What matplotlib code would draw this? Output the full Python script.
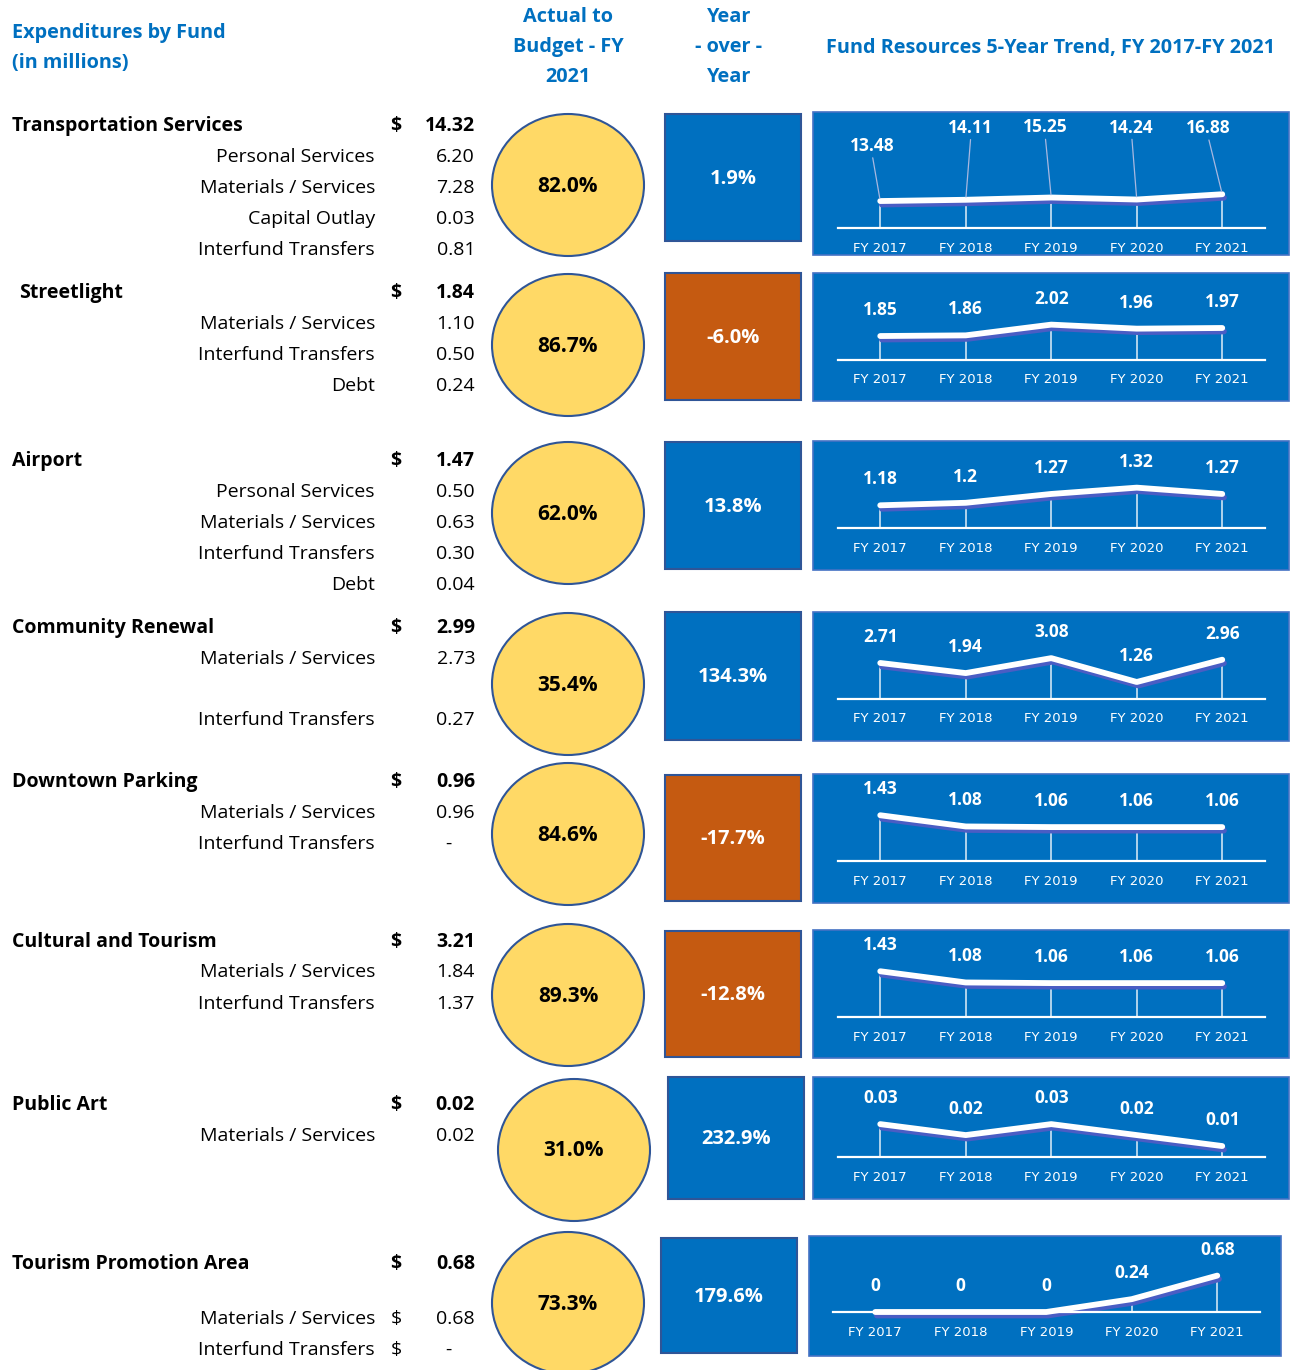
import numpy as np
import matplotlib
matplotlib.use("Agg")
import matplotlib.pyplot as plt
import matplotlib.patheffects as pe
from matplotlib.patches import Ellipse, Rectangle

plt.rcParams['font.family'] = ['Open Sans', 'DejaVu Sans']

# ---- data (in millions) ----
funds = ["Transportation Services", "Streetlight", "Airport", "Community Renewal",
         "Downtown Parking", "Cultural and Tourism", "Public Art", "Tourism Promotion Area"]
fund_totals = [14.32, 1.84, 1.47, 2.99, 0.96, 3.21, 0.02, 0.68]

item_names = [
    ["Personal Services", "Materials / Services", "Capital Outlay", "Interfund Transfers"],
    ["Materials / Services", "Interfund Transfers", "Debt"],
    ["Personal Services", "Materials / Services", "Interfund Transfers", "Debt"],
    ["Materials / Services", "Interfund Transfers"],
    ["Materials / Services", "Interfund Transfers"],
    ["Materials / Services", "Interfund Transfers"],
    ["Materials / Services"],
    ["Materials / Services", "Interfund Transfers"],
]
item_values = [
    [6.20, 7.28, 0.03, 0.81],
    [1.10, 0.50, 0.24],
    [0.50, 0.63, 0.30, 0.04],
    [2.73, 0.27],
    [0.96, None],
    [1.84, 1.37],
    [0.02],
    [0.68, None],
]

actual_to_budget = [82.0, 86.7, 62.0, 35.4, 84.6, 89.3, 31.0, 73.3]
year_over_year = [1.9, -6.0, 13.8, 134.3, -17.7, -12.8, 232.9, 179.6]

years = ["FY 2017", "FY 2018", "FY 2019", "FY 2020", "FY 2021"]
trend = [
    [13.48, 14.11, 15.25, 14.24, 16.88],
    [1.85, 1.86, 2.02, 1.96, 1.97],
    [1.18, 1.2, 1.27, 1.32, 1.27],
    [2.71, 1.94, 3.08, 1.26, 2.96],
    [1.43, 1.08, 1.06, 1.06, 1.06],
    [1.43, 1.08, 1.06, 1.06, 1.06],
    [0.03, 0.02, 0.03, 0.02, 0.01],
    [0, 0, 0, 0.24, 0.68],
]
# sparkline value axis bounds
trend_axis_min = [0, 1.5, 1.0, 0, 0, 0, 0, 0]
trend_axis_max = [58, 2.79, 1.69, 6.6, 2.72, 2.72, 0.073, 1.42]

# ---- layout (pixels, top-left origin) ----
W, H = 1290, 1370
BLUE = "#0070C0"
ORANGE = "#C55A11"
YELLOW = "#FFD966"
EDGE = "#2F5597"

title_x = [12, 19, 12, 12, 12, 12, 12, 12]
title_y = [125, 292, 460, 627, 781, 941, 1104, 1263]
item_y = [[156, 187, 218, 249], [323, 354, 385], [491, 522, 553, 584], [658, 719],
          [812, 843], [971, 1003], [1135], [1318, 1349]]
item_dollar = [False] * 7 + [True]
circle_xy = [(568, 185), (568, 345), (568, 513), (568, 684), (568, 834), (568, 995),
             (574, 1150), (568, 1303)]
boxes = [(665, 114, 801, 241), (665, 273, 801, 400), (665, 442, 801, 569),
         (665, 612, 801, 740), (665, 775, 801, 901), (665, 931, 801, 1057),
         (668, 1077, 804, 1199), (661, 1238, 797, 1353)]
panels = [(813, 112, 1289, 255), (813, 273, 1289, 401), (813, 441, 1289, 570),
          (813, 612, 1289, 741), (813, 774, 1289, 903), (813, 930, 1289, 1058),
          (813, 1077, 1289, 1199), (809, 1236, 1281, 1356)]
baselines = [228, 359.5, 528, 698.5, 861, 1017, 1157, 1312]
plot_x = [(837.5, 1265)] * 7 + [(832.5, 1260)]
# label offsets for the first sparkline (leader lines)
lead_offsets = [(-8, 55), (5, 72), (-6, 70), (-5, 72), (-14, 66)]

FS = 14

fig = plt.figure(figsize=(W / 100, H / 100), dpi=100)
ax = fig.add_axes([0, 0, 1, 1])
ax.set_xlim(0, W)
ax.set_ylim(H, 0)
ax.axis("off")

# headers
hdr = dict(color=BLUE, fontweight="bold", fontsize=14.3, va="center")
ax.text(12, 33, "Expenditures by Fund", ha="left", **hdr)
ax.text(12, 63, "(in millions)", ha="left", **hdr)
for y, s in zip([17, 47, 77], ["Actual to", "Budget - FY", "2021"]):
    ax.text(568, y, s, ha="center", **hdr)
for y, s in zip([17, 47, 77], ["Year", "- over -", "Year"]):
    ax.text(729, y, s, ha="center", **hdr)
ax.text(1050, 48, "Fund Resources 5-Year Trend, FY 2017-FY 2021", ha="center", **hdr)

for k, name in enumerate(funds):
    # left table
    ax.text(title_x[k], title_y[k] + 1, name, ha="left", va="center", fontsize=FS,
            fontweight="bold")
    ax.text(396, title_y[k] + 1, "$", ha="center", va="center", fontsize=FS, fontweight="bold")
    ax.text(475, title_y[k] + 1, f"{fund_totals[k]:.2f}", ha="right", va="center",
            fontsize=FS, fontweight="bold")
    for nm, val, y in zip(item_names[k], item_values[k], item_y[k]):
        ax.text(375, y + 1, nm, ha="right", va="center", fontsize=FS)
        if item_dollar[k]:
            ax.text(396, y + 1, "$", ha="center", va="center", fontsize=FS)
        if val is None:
            ax.text(448, y + 1, "-", ha="center", va="center", fontsize=FS)
        else:
            ax.text(475, y + 1, f"{val:.2f}", ha="right", va="center", fontsize=FS)

    # actual to budget circle
    cx, cy = circle_xy[k]
    ax.add_patch(Ellipse((cx, cy), 152, 142, facecolor=YELLOW, edgecolor=EDGE, lw=1.5))
    ax.text(cx, cy + 1, f"{actual_to_budget[k]:.1f}%", ha="center", va="center",
            fontsize=15, fontweight="bold")

    # year over year box
    x0, y0, x1, y1 = boxes[k]
    col = BLUE if year_over_year[k] >= 0 else ORANGE
    ax.add_patch(Rectangle((x0, y0), x1 - x0, y1 - y0, facecolor=col, edgecolor=EDGE, lw=1.5))
    ax.text((x0 + x1) / 2, (y0 + y1) / 2 + 1, f"{year_over_year[k]:.1f}%", ha="center",
            va="center", fontsize=14.5, fontweight="bold", color="white")

    # sparkline panel
    px0, py0, px1, py1 = panels[k]
    ax.add_patch(Rectangle((px0, py0), px1 - px0, py1 - py0, facecolor=BLUE,
                           edgecolor="#4472C4", lw=1.2))
    bl = baselines[k]
    xa, xb = plot_x[k]
    sp = fig.add_axes([xa / W, 1 - bl / H, (xb - xa) / W, (bl - py0) / H])
    sp.set_facecolor("none")
    sp.set_xlim(-0.5, 4.5)
    sp.set_ylim(trend_axis_min[k], trend_axis_max[k])
    xs = np.arange(len(years))
    vals = trend[k]
    sp.vlines(xs, trend_axis_min[k], vals, color="white", lw=1.3, alpha=0.75)
    sp.plot(xs, vals, color="white", lw=4.2, solid_capstyle="round", solid_joinstyle="round",
            clip_on=False,
            path_effects=[pe.SimpleLineShadow(offset=(1.2, -2.5), shadow_color="#4A5DC4",
                                              alpha=1.0, rho=1.0), pe.Normal()])
    for i, v in enumerate(vals):
        if k == 0:
            dx, dy = lead_offsets[i]
            sp.annotate(f"{v:g}", (i, v), xytext=(dx, dy), textcoords="offset pixels",
                        ha="center", va="center", color="white", fontweight="bold",
                        fontsize=12.5, annotation_clip=False,
                        arrowprops=dict(arrowstyle="-", color="#A9B8E0", lw=0.9,
                                        relpos=(0.5, 0), shrinkA=0, shrinkB=2))
        else:
            sp.annotate(f"{v:g}", (i, v), xytext=(0, 26), textcoords="offset pixels",
                        ha="center", va="center", color="white", fontweight="bold",
                        fontsize=12.5, annotation_clip=False)
    sp.set_xticks(xs)
    sp.set_xticklabels(years, color="white", fontsize=9.5, family="DejaVu Sans")
    sp.tick_params(axis="x", length=0, pad=10)
    sp.set_yticks([])
    for s in ["top", "left", "right"]:
        sp.spines[s].set_visible(False)
    sp.spines["bottom"].set_color("white")
    sp.spines["bottom"].set_linewidth(1.6)

fig.savefig("out.png", dpi=100)
